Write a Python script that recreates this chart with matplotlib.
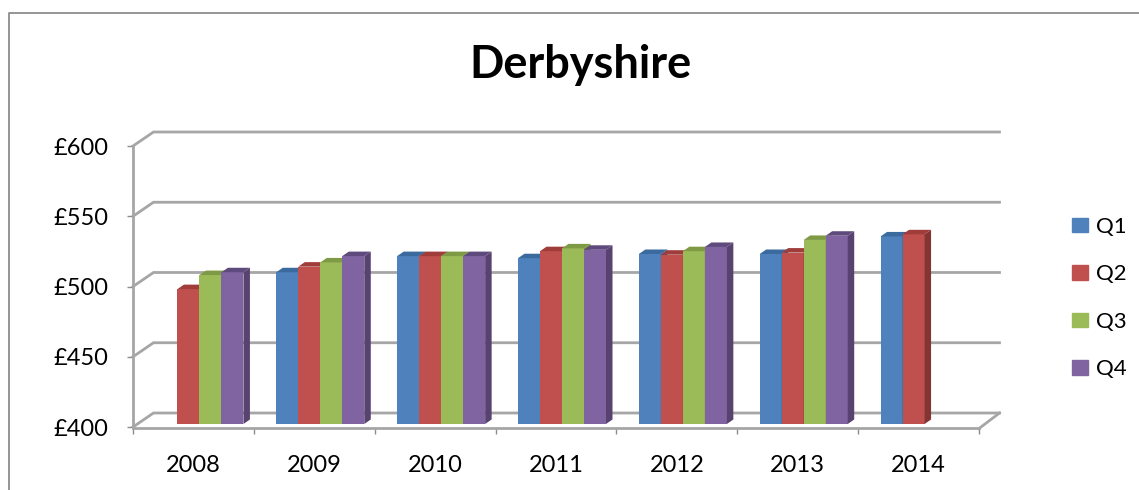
#!/usr/bin/env python3
"""Derbyshire quarterly values, drawn as a fake 3D clustered column chart."""

import matplotlib
matplotlib.use('Agg')
from matplotlib.lines import Line2D
from matplotlib.patches import Patch
import matplotlib.pyplot as plt
import numpy as np

years = ['2008', '2009', '2010', '2011', '2012', '2013', '2014']
q1 = [np.nan, 508, 519.5, 518, 521, 521, 533.5]
q2 = [496, 512, 519.5, 523, 520.5, 522, 535]
q3 = [506, 515, 519.5, 525, 523, 531, np.nan]
q4 = [508, 519.5, 519.5, 524, 526, 534, np.nan]
series_names = ['Q1', 'Q2', 'Q3', 'Q4']
y_ticks = [400, 450, 500, 550, 600]

face_colours = ['#4f81bd', '#c0504d', '#9bbb59', '#8064a2']
top_colours = ['#3b6a9e', '#a03c3a', '#7f9a45', '#5f4a7e']
side_colours = ['#335c8c', '#823533', '#6c843a', '#584370']
line_colour = '#a6a6a6'

W, H = 1139, 490
PX_X = 120.86  # pixels per category
PX_Y = 1.405  # pixels per value unit


def px_x(n):
    return n / PX_X


def px_y(n):
    return n / PX_Y


def draw_walls(ax):
    wall_x = px_x(20.5)
    wall_y = px_y(14)
    n = len(years)
    for v in y_ticks:
        ax.plot([0, wall_x, n + wall_x], [v, v + wall_y, v + wall_y],
                color=line_colour, lw=2, clip_on=False, zorder=1,
                solid_joinstyle='miter')
    ax.plot([n, n + wall_x], [y_ticks[0] - px_y(1.5), y_ticks[0] + wall_y],
            color=line_colour, lw=2, clip_on=False, zorder=1)


def draw_bars(ax, values):
    bar_w = px_x(22)
    shift_x = px_x(6)
    shift_y = px_y(3)  # bars stand a little behind the front edge of the floor
    depth_x = px_x(6.5)
    depth_y = px_y(4.5)
    base = y_ticks[0] + shift_y
    for i in range(len(years)):
        left = i + 0.5 + shift_x - 2 * bar_w
        for j, vals in enumerate(values):
            v = vals[i]
            if np.isnan(v):
                continue
            top = v + shift_y
            x0 = left + j * bar_w
            x1 = x0 + bar_w
            z = 3 + i + j * 0.1
            ax.bar(x0, top - base, bar_w, bottom=base, align='edge',
                   color=face_colours[j], clip_on=False, zorder=z)
            ax.fill([x1, x1 + depth_x, x1 + depth_x, x1],
                    [base, base + depth_y, top + depth_y, top],
                    color=side_colours[j], lw=0, clip_on=False, zorder=z)
            ax.fill([x0, x0 + depth_x, x1 + depth_x, x1],
                    [top, top + depth_y, top + depth_y, top],
                    color=top_colours[j], lw=0, clip_on=False, zorder=z)


def main():
    plt.rc('font', family=['Lato', 'DejaVu Sans'])

    fig = plt.figure(figsize=(W / 100, H / 100), dpi=100)
    ax = fig.add_axes([133 / W, 1 - 427 / H, (979 - 133) / W, (427 - 146) / H])
    ax.patch.set_visible(False)

    draw_walls(ax)
    draw_bars(ax, [q1, q2, q3, q4])

    ax.set_xlim(0, len(years))
    ax.set_ylim(y_ticks[0], y_ticks[-1])
    for side in ('top', 'right'):
        ax.spines[side].set_visible(False)
    for side in ('left', 'bottom'):
        ax.spines[side].set_color(line_colour)
        ax.spines[side].set_linewidth(2)
    ax.spines['bottom'].set_position(('outward', 1))

    ax.set_yticks(y_ticks)
    ax.set_yticklabels([f'£{v}' for v in y_ticks])
    ax.tick_params(axis='y', length=4.5, width=1, color='#8c8c8c', pad=13, labelsize=17)
    ax.set_xticks(range(len(years) + 1))
    ax.set_xticklabels([])
    ax.set_xticks(np.arange(len(years)) + 0.5, years, minor=True)
    ax.tick_params(axis='x', which='major', length=4, width=1, color='#8c8c8c')
    ax.tick_params(axis='x', which='minor', length=0, pad=19, labelsize=17)

    fig.text(580 / W, 1 - 65 / H, 'Derbyshire', ha='center', va='center',
             fontsize=32.5, fontweight='bold', color='black')

    handles = [Patch(color=c, label=n) for c, n in zip(face_colours, series_names)]
    fig.legend(handles=handles, loc='center left', bbox_to_anchor=(1052 / W, 1 - 298 / H),
               frameon=False, fontsize=16, handlelength=0.72, handleheight=0.63,
               handletextpad=0.36, labelspacing=1.24)

    # chart frame, cut off by the crop on the right and bottom
    fig.add_artist(Line2D([9 / W, 9 / W, 1], [0, 1 - 13 / H, 1 - 13 / H],
                          color='#8c8c8c', lw=1.3))

    fig.savefig('out.png', dpi=100)


if __name__ == '__main__':
    main()
